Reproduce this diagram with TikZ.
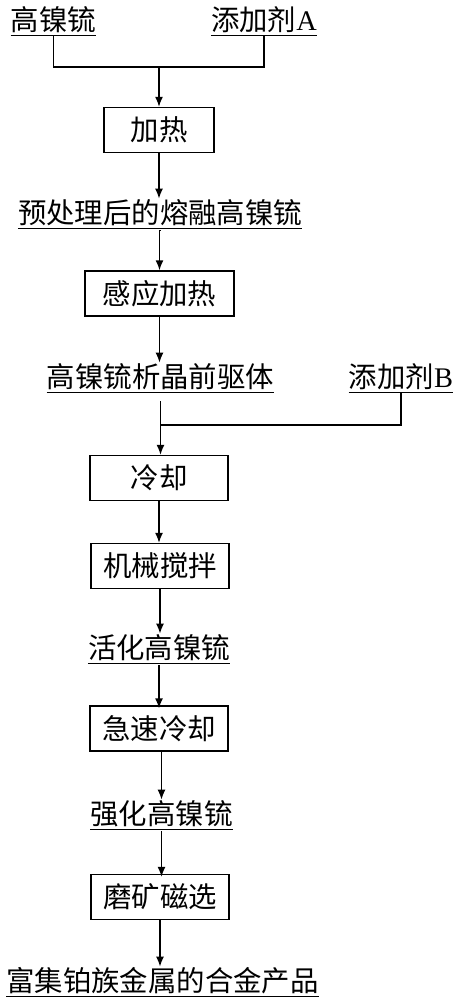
\documentclass[tikz,border=0pt]{standalone}
\usepackage{fontspec}
\setmainfont{Liberation Serif}
\newfontfamily\cjk{Noto Sans CJK SC}
\usetikzlibrary{arrows.meta}
\begin{document}
\begin{tikzpicture}[x=1pt,y=1pt,
  every node/.style={font=\cjk\fontsize{28.4}{32}\selectfont},
  stepbox/.style={draw,line width=1.4pt,minimum height=45pt,inner sep=0pt},
  label/.style={inner sep=0pt,text height=25pt,text depth=3.4pt},
  ln/.style={line width=1.4pt},
  arr/.style={line width=1.4pt,-{Latex[length=10pt,width=8pt]}}]
\useasboundingbox (0,0) rectangle (458,-1000);
% nodes
\node[label] (n1) at (53.5,-20) {高镍锍};
\node[label] (n2) at (264,-20) {添加剂{\rmfamily A}};
\node[stepbox,minimum width=110pt] (b1) at (159,-130) {加热};
\node[label] (t2) at (160,-213) {预处理后的熔融高镍锍};
\node[stepbox,minimum width=149pt] (b2) at (159.5,-293.5) {感应加热};
\node[label] (t3) at (160.5,-377) {高镍锍析晶前驱体};
\node[label] (t4) at (401,-377) {添加剂{\rmfamily B}};
\node[stepbox,minimum width=138pt] (b3) at (159,-478) {冷却};
\node[stepbox,minimum width=138pt] (b4) at (160,-566) {机械搅拌};
\node[label] (t5) at (159,-648) {活化高镍锍};
\node[stepbox,minimum width=138pt] (b5) at (159,-728.5) {急速冷却};
\node[label] (t6) at (161.5,-814) {强化高镍锍};
\node[stepbox,minimum width=138pt] (b6) at (160,-897) {磨矿磁选};
\node[label] (t7) at (162.5,-981) {富集铂族金属的合金产品};
% underlines
\foreach \n in {n1,n2,t2,t3,t4,t5,t6,t7}
  \draw[ln] ([yshift=-1pt]\n.south west) -- ([yshift=-1pt]\n.south east);
% connectors
\coordinate (j1) at (159,-67);
\draw[ln] ([yshift=-2pt]n1.south) |- (j1);
\draw[ln] ([yshift=-2pt]n2.south) |- (j1);
\draw[arr] (j1) -- (j1 |- b1.north);
\draw[arr] (b1.south) -- (b1.south |- t2.north);
\draw[arr] ([yshift=-3pt]t2.south) -- ([yshift=-3pt]t2.south -| b2.north) -- (b2.north);
\draw[arr] (b2.south) -- (b2.south |- t3.north);
\coordinate (j2) at (160.5,-425);
\draw[ln] ([yshift=-2pt]t4.south) |- (j2);
\draw[arr] ([yshift=-10pt]t3.south) -- (t3.south |- b3.north);
\draw[arr] (b3.south) -- (b3.south |- b4.north);
\draw[arr] (b4.south) -- (b4.south |- t5.north);
\draw[arr] ([yshift=-3pt]t5.south) -- ([yshift=-3pt]t5.south |- b5.north);
\draw[arr] (b5.south -| t6.north) -- (t6.north);
\draw[arr] ([yshift=-3pt]t6.south) -- ([yshift=-3pt]t6.south |- b6.north);
\draw[arr] (b6.south) -- (b6.south |- t7.north);
\end{tikzpicture}
\end{document}
